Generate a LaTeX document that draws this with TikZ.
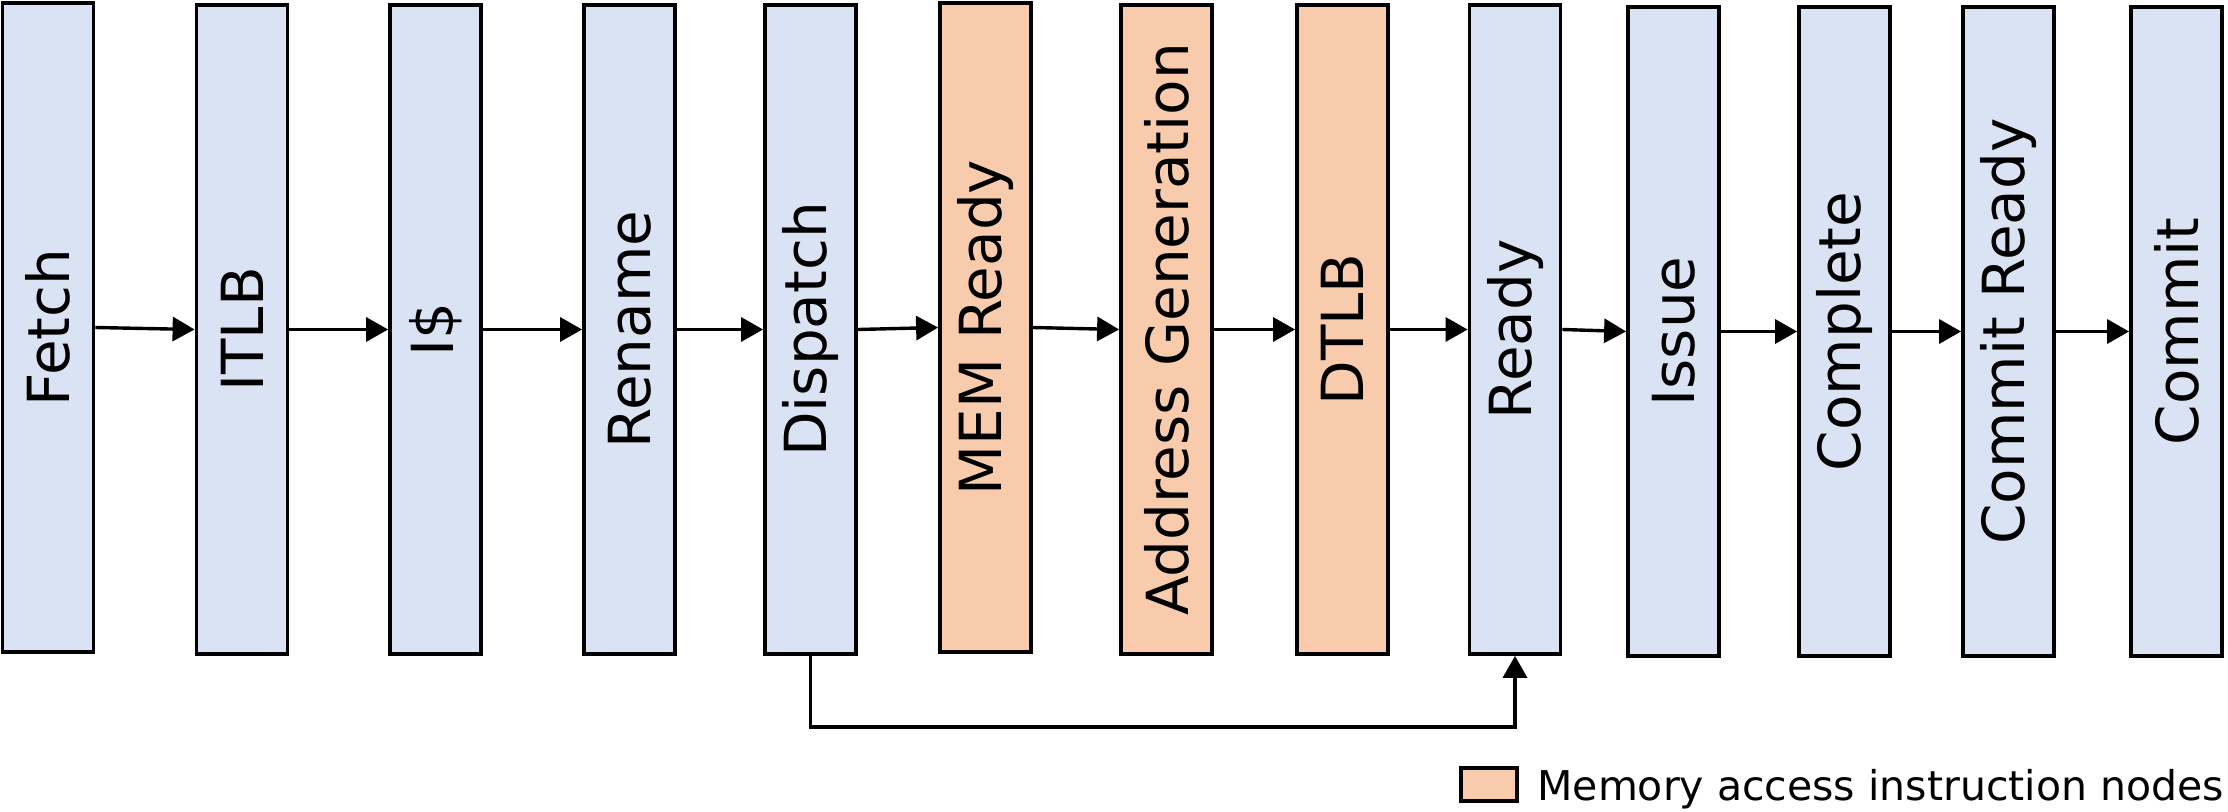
\documentclass[tikz,border=0pt]{standalone}
\usepackage{fontspec}
\setmainfont{DejaVu Sans}
\usetikzlibrary{arrows.meta}
\definecolor{stageblue}{HTML}{DAE3F3}
\definecolor{stagemem}{HTML}{F8CBAD}
\tikzset{
  stagebox/.style={draw=black, line width=1.8pt, fill=stageblue,
    minimum width=45.6pt, minimum height=324.6pt, inner sep=0pt,
    font=\fontsize{29}{34}\selectfont},
  membox/.style={stagebox, fill=stagemem},
  flow/.style={line width=1.7pt, -{Triangle[length=11pt,width=12pt]}},
}
\begin{document}
\begin{tikzpicture}[x=0.5pt,y=-0.5pt]
\useasboundingbox (0,0) rectangle (2228,812);
\fill[white] (0,0) rectangle (2228,812);
\node[stagebox] (fetch)  at (48,327.5)    {\rotatebox{90}{Fetch}};
\node[stagebox] (itlb)   at (242,329.5)   {\rotatebox{90}{ITLB}};
\node[stagebox] (icache) at (435.5,329.5) {\rotatebox{90}{I\$}};
\node[stagebox] (rename) at (629.5,329.5) {\rotatebox{90}{Rename}};
\node[stagebox] (disp)   at (810.5,329.5) {\rotatebox{90}{Dispatch}};
\node[membox]   (memrdy) at (985.5,327.5) {\rotatebox{90}{MEM Ready}};
\node[membox]   (agen)   at (1166.5,329.5){\rotatebox{90}{Address Generation}};
\node[membox]   (dtlb)   at (1342.5,329.5){\rotatebox{90}{DTLB}};
\node[stagebox] (ready)  at (1515,329.5)  {\rotatebox{90}{Ready}};
\node[stagebox] (issue)  at (1673.5,331.5){\rotatebox{90}{Issue}};
\node[stagebox] (compl)  at (1844.5,331.5){\rotatebox{90}{Complete}};
\node[stagebox] (crdy)   at (2008.5,331.5){\rotatebox{90}{Commit Ready}};
\node[stagebox] (commit) at (2176.5,331.5){\rotatebox{90}{Commit}};
\draw[flow] (fetch.east) -- (itlb.west);
\draw[flow] (itlb.east) -- (icache.west);
\draw[flow] (icache.east) -- (rename.west);
\draw[flow] (rename.east) -- (disp.west);
\draw[flow] (disp.east) -- (memrdy.west);
\draw[flow] (memrdy.east) -- (agen.west);
\draw[flow] (agen.east) -- (dtlb.west);
\draw[flow] (dtlb.east) -- (ready.west);
\draw[flow] (ready.east) -- (issue.west);
\draw[flow] (issue.east) -- (compl.west);
\draw[flow] (compl.east) -- (crdy.west);
\draw[flow] (crdy.east) -- (commit.west);
\coordinate (bend) at (810.5,727);
\draw[flow] (disp.south) -- (bend) -| (ready.south);
\node[draw=black, line width=1.8pt, fill=stagemem, minimum width=28.2pt,
  minimum height=16.7pt, inner sep=0pt] (legbox) at (1489,784.5) {};
\node[anchor=base west, inner sep=0pt, font=\fontsize{20.5}{24}\selectfont]
  (legtext) at (1537,800) {Memory access instruction nodes};
\end{tikzpicture}
\end{document}
